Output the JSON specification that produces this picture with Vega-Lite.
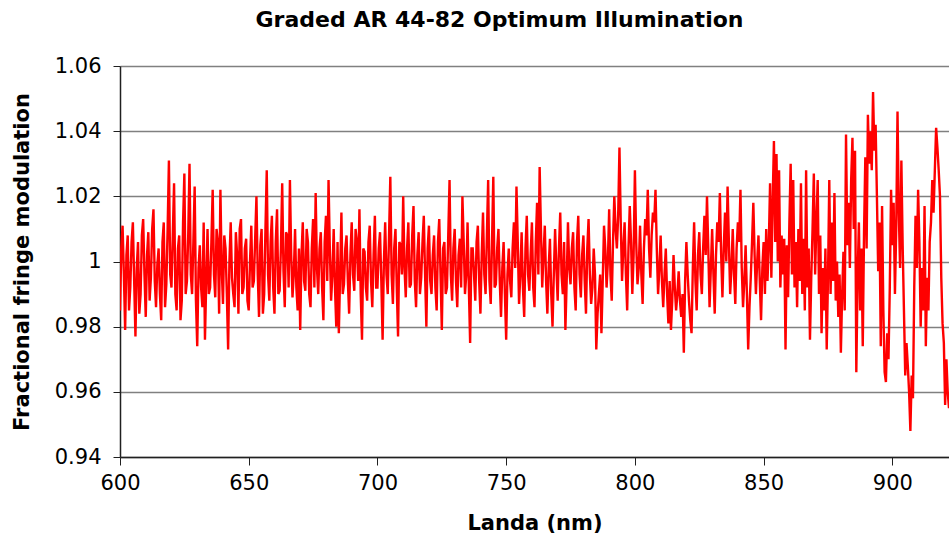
{
  "$schema": "https://vega.github.io/schema/vega-lite/v6.json",
  "width": 829,
  "height": 391,
  "autosize": {"type": "none"},
  "padding": {"left": 120, "top": 66, "right": 0, "bottom": 88},
  "background": "white",
  "config": {
    "view": {"stroke": null},
    "font": "DejaVu Sans",
    "axis": {"labelFont": "DejaVu Sans", "titleFont": "DejaVu Sans", "labelColor": "black", "titleColor": "black"}
  },
  "title": {
    "text": "Graded AR 44-82 Optimum Illumination",
    "font": "DejaVu Sans",
    "fontSize": 22,
    "fontWeight": "bold",
    "color": "black",
    "anchor": "middle",
    "frame": "group",
    "dx": -35,
    "offset": 30,
    "dy": 24,
    "baseline": "alphabetic"
  },
  "data": {"values": [
    {"x":600,"y":0.985},{"x":601,"y":1.011},{"x":602,"y":0.979},{"x":603,"y":1.008},{"x":604,"y":0.992},{"x":605,"y":1.012},{"x":606,"y":0.977},{"x":607,"y":1.006},{"x":608,"y":0.990},{"x":609,"y":1.013},
    {"x":610,"y":0.983},{"x":611,"y":1.009},{"x":612,"y":0.995},{"x":613,"y":1.016},{"x":614,"y":0.986},{"x":615,"y":1.004},{"x":616,"y":0.982},{"x":617,"y":1.012},{"x":618,"y":0.993},{"x":619,"y":1.031},
    {"x":620,"y":0.992},{"x":621,"y":1.024},{"x":622,"y":0.985},{"x":623,"y":1.008},{"x":624,"y":0.988},{"x":625,"y":1.027},{"x":626,"y":0.994},{"x":627,"y":1.030},{"x":628,"y":0.990},{"x":629,"y":1.023},
    {"x":630,"y":0.974},{"x":631,"y":1.005},{"x":632,"y":0.986},{"x":633,"y":0.976},{"x":634,"y":1.010},{"x":635,"y":0.992},{"x":636,"y":1.022},{"x":637,"y":0.989},{"x":638,"y":1.006},{"x":639,"y":1.022},
    {"x":640,"y":0.987},{"x":641,"y":1.004},{"x":642,"y":0.973},{"x":643,"y":1.012},{"x":644,"y":0.990},{"x":645,"y":1.009},{"x":646,"y":0.984},{"x":647,"y":1.013},{"x":648,"y":0.992},{"x":649,"y":1.007},
    {"x":650,"y":0.985},{"x":651,"y":1.011},{"x":652,"y":0.994},{"x":653,"y":1.020},{"x":654,"y":0.983},{"x":655,"y":1.010},{"x":656,"y":0.990},{"x":657,"y":1.028},{"x":658,"y":0.988},{"x":659,"y":1.014},
    {"x":660,"y":0.984},{"x":661,"y":1.016},{"x":662,"y":0.991},{"x":663,"y":1.024},{"x":664,"y":0.986},{"x":665,"y":1.008},{"x":666,"y":1.025},{"x":667,"y":0.989},{"x":668,"y":1.010},{"x":669,"y":0.985},
    {"x":670,"y":0.979},{"x":671,"y":1.012},{"x":672,"y":0.991},{"x":673,"y":1.006},{"x":674,"y":0.986},{"x":675,"y":1.013},{"x":676,"y":1.021},{"x":677,"y":0.990},{"x":678,"y":1.009},{"x":679,"y":0.982},
    {"x":680,"y":1.014},{"x":681,"y":1.025},{"x":682,"y":0.988},{"x":683,"y":1.010},{"x":684,"y":0.980},{"x":685,"y":0.978},{"x":686,"y":1.015},{"x":687,"y":0.993},{"x":688,"y":1.008},{"x":689,"y":0.984},
    {"x":690,"y":1.012},{"x":691,"y":0.991},{"x":692,"y":1.006},{"x":693,"y":1.016},{"x":694,"y":0.976},{"x":695,"y":1.003},{"x":696,"y":0.988},{"x":697,"y":1.011},{"x":698,"y":0.986},{"x":699,"y":1.014},
    {"x":700,"y":0.992},{"x":701,"y":1.009},{"x":702,"y":0.976},{"x":703,"y":1.012},{"x":704,"y":0.990},{"x":705,"y":1.026},{"x":706,"y":0.987},{"x":707,"y":1.010},{"x":708,"y":0.977},{"x":709,"y":1.005},
    {"x":710,"y":1.020},{"x":711,"y":0.989},{"x":712,"y":1.012},{"x":713,"y":0.993},{"x":714,"y":1.017},{"x":715,"y":0.986},{"x":716,"y":1.009},{"x":717,"y":0.995},{"x":718,"y":1.014},{"x":719,"y":0.980},
    {"x":720,"y":1.011},{"x":721,"y":0.990},{"x":722,"y":1.008},{"x":723,"y":0.985},{"x":724,"y":1.013},{"x":725,"y":0.979},{"x":726,"y":1.006},{"x":727,"y":0.992},{"x":728,"y":1.025},{"x":729,"y":0.988},
    {"x":730,"y":1.010},{"x":731,"y":0.986},{"x":732,"y":1.007},{"x":733,"y":1.020},{"x":734,"y":0.990},{"x":735,"y":1.012},{"x":736,"y":0.975},{"x":737,"y":1.004},{"x":738,"y":0.988},{"x":739,"y":1.011},
    {"x":740,"y":0.984},{"x":741,"y":1.015},{"x":742,"y":0.990},{"x":743,"y":1.025},{"x":744,"y":0.987},{"x":745,"y":1.026},{"x":746,"y":0.993},{"x":747,"y":1.010},{"x":748,"y":0.983},{"x":749,"y":1.006},
    {"x":750,"y":0.976},{"x":751,"y":1.004},{"x":752,"y":0.989},{"x":753,"y":1.012},{"x":754,"y":1.023},{"x":755,"y":0.987},{"x":756,"y":1.009},{"x":757,"y":0.983},{"x":758,"y":1.014},{"x":759,"y":0.991},
    {"x":760,"y":1.012},{"x":761,"y":0.986},{"x":762,"y":1.018},{"x":763,"y":1.029},{"x":764,"y":0.992},{"x":765,"y":1.011},{"x":766,"y":0.984},{"x":767,"y":1.007},{"x":768,"y":0.980},{"x":769,"y":1.010},
    {"x":770,"y":0.988},{"x":771,"y":1.015},{"x":772,"y":0.990},{"x":773,"y":0.979},{"x":774,"y":1.012},{"x":775,"y":0.993},{"x":776,"y":1.009},{"x":777,"y":0.985},{"x":778,"y":1.014},{"x":779,"y":0.989},
    {"x":780,"y":1.008},{"x":781,"y":0.984},{"x":782,"y":1.013},{"x":783,"y":0.987},{"x":784,"y":1.004},{"x":785,"y":0.973},{"x":786,"y":0.990},{"x":787,"y":0.978},{"x":788,"y":1.011},{"x":789,"y":0.992},
    {"x":790,"y":1.016},{"x":791,"y":0.988},{"x":792,"y":1.020},{"x":793,"y":1.004},{"x":794,"y":1.035},{"x":795,"y":0.994},{"x":796,"y":1.012},{"x":797,"y":0.985},{"x":798,"y":1.017},{"x":799,"y":0.990},
    {"x":800,"y":1.028},{"x":801,"y":0.993},{"x":802,"y":1.011},{"x":803,"y":0.987},{"x":804,"y":1.013},{"x":805,"y":1.022},{"x":806,"y":0.995},{"x":807,"y":1.015},{"x":808,"y":1.022},{"x":809,"y":0.990},
    {"x":810,"y":1.008},{"x":811,"y":0.986},{"x":812,"y":1.004},{"x":813,"y":0.981},{"x":814,"y":0.979},{"x":815,"y":1.002},{"x":816,"y":0.985},{"x":817,"y":0.997},{"x":818,"y":0.983},{"x":819,"y":0.972},
    {"x":820,"y":1.006},{"x":821,"y":0.988},{"x":822,"y":0.978},{"x":823,"y":1.012},{"x":824,"y":0.985},{"x":825,"y":1.009},{"x":826,"y":0.990},{"x":827,"y":1.014},{"x":828,"y":1.020},{"x":829,"y":0.986},
    {"x":830,"y":1.010},{"x":831,"y":0.984},{"x":832,"y":1.012},{"x":833,"y":1.021},{"x":834,"y":0.989},{"x":835,"y":1.015},{"x":836,"y":1.023},{"x":837,"y":0.990},{"x":838,"y":1.010},{"x":839,"y":0.987},
    {"x":840,"y":1.012},{"x":841,"y":1.022},{"x":842,"y":0.986},{"x":843,"y":1.005},{"x":844,"y":0.973},{"x":845,"y":0.995},{"x":846,"y":1.018},{"x":847,"y":0.990},{"x":848,"y":1.008},{"x":849,"y":0.982},
    {"x":850,"y":1.006},{"x":850.5,"y":0.990},{"x":851,"y":1.010},{"x":851.5,"y":0.994},{"x":852,"y":1.005},{"x":852.5,"y":1.024},{"x":853,"y":0.995},{"x":853.5,"y":1.018},{"x":854,"y":1.037},{"x":854.5,"y":1.006},
    {"x":855,"y":1.033},{"x":855.5,"y":1.000},{"x":856,"y":1.028},{"x":856.5,"y":0.992},{"x":857,"y":1.008},{"x":857.5,"y":0.996},{"x":858,"y":1.007},{"x":858.5,"y":0.973},{"x":859,"y":1.005},{"x":859.5,"y":0.989},
    {"x":860,"y":1.012},{"x":860.5,"y":1.030},{"x":861,"y":0.996},{"x":861.5,"y":1.025},{"x":862,"y":0.992},{"x":862.5,"y":1.006},{"x":863,"y":0.986},{"x":863.5,"y":1.010},{"x":864,"y":0.994},{"x":864.5,"y":1.024},
    {"x":865,"y":0.990},{"x":865.5,"y":1.007},{"x":866,"y":0.985},{"x":866.5,"y":1.028},{"x":867,"y":0.992},{"x":867.5,"y":1.004},{"x":868,"y":0.976},{"x":868.5,"y":0.995},{"x":869,"y":1.010},{"x":869.5,"y":1.027},
    {"x":870,"y":0.996},{"x":870.5,"y":1.012},{"x":871,"y":1.025},{"x":871.5,"y":0.990},{"x":872,"y":1.008},{"x":872.5,"y":0.978},{"x":873,"y":0.998},{"x":873.5,"y":0.985},{"x":874,"y":1.004},{"x":874.5,"y":0.973},
    {"x":875,"y":0.995},{"x":875.5,"y":1.025},{"x":876,"y":0.990},{"x":876.5,"y":1.012},{"x":877,"y":0.994},{"x":877.5,"y":1.021},{"x":878,"y":0.988},{"x":878.5,"y":1.000},{"x":879,"y":0.983},{"x":879.5,"y":0.996},
    {"x":880,"y":0.972},{"x":880.5,"y":0.990},{"x":881,"y":1.003},{"x":881.5,"y":0.985},{"x":882,"y":1.039},{"x":882.5,"y":1.005},{"x":883,"y":1.018},{"x":883.5,"y":0.998},{"x":884,"y":1.025},{"x":884.5,"y":1.038},
    {"x":885,"y":1.010},{"x":885.5,"y":1.034},{"x":886,"y":0.966},{"x":886.5,"y":0.995},{"x":887,"y":1.012},{"x":887.5,"y":0.985},{"x":888,"y":1.004},{"x":888.5,"y":0.974},{"x":889,"y":1.009},{"x":889.5,"y":1.032},
    {"x":890,"y":1.004},{"x":890.5,"y":1.045},{"x":891,"y":1.030},{"x":891.5,"y":1.040},{"x":892,"y":1.028},{"x":892.5,"y":1.052},{"x":893,"y":1.034},{"x":893.5,"y":1.042},{"x":894,"y":1.020},{"x":894.5,"y":0.997},
    {"x":895,"y":1.012},{"x":895.5,"y":0.974},{"x":896,"y":1.017},{"x":896.5,"y":0.985},{"x":897,"y":0.966},{"x":897.5,"y":0.963},{"x":898,"y":0.978},{"x":898.5,"y":0.970},{"x":899,"y":0.992},{"x":899.5,"y":1.022},
    {"x":900,"y":1.005},{"x":900.5,"y":1.018},{"x":901,"y":0.990},{"x":901.5,"y":1.010},{"x":902,"y":1.046},{"x":902.5,"y":1.015},{"x":903,"y":0.998},{"x":903.5,"y":1.031},{"x":904,"y":1.005},{"x":904.5,"y":0.985},
    {"x":905,"y":0.965},{"x":905.5,"y":0.975},{"x":906,"y":0.968},{"x":906.5,"y":0.960},{"x":907,"y":0.948},{"x":907.5,"y":0.965},{"x":908,"y":0.958},{"x":908.5,"y":0.992},{"x":909,"y":1.014},{"x":909.5,"y":0.998},
    {"x":910,"y":1.022},{"x":910.5,"y":1.006},{"x":911,"y":0.980},{"x":911.5,"y":0.998},{"x":912,"y":0.985},{"x":912.5,"y":1.017},{"x":913,"y":0.974},{"x":913.5,"y":0.995},{"x":914,"y":0.985},{"x":914.5,"y":1.006},
    {"x":915,"y":1.012},{"x":915.5,"y":1.025},{"x":916,"y":1.015},{"x":916.5,"y":1.028},{"x":917,"y":1.041},{"x":917.5,"y":1.035},{"x":918,"y":1.028},{"x":918.5,"y":1.020},{"x":919,"y":0.995},{"x":919.5,"y":0.981},
    {"x":920,"y":0.975},{"x":920.5,"y":0.956},{"x":921,"y":0.970},{"x":921.5,"y":0.960},{"x":922,"y":0.955},
    {"x":600.5,"y":1.004},{"x":601.5,"y":0.996},{"x":602.5,"y":1.002},{"x":603.5,"y":0.985},{"x":604.5,"y":1.006},{"x":605.5,"y":0.994},{"x":606.5,"y":0.998},{"x":607.5,"y":0.984},{"x":608.5,"y":1.008},{"x":609.5,"y":0.996},
    {"x":610.5,"y":1.002},{"x":611.5,"y":0.988},{"x":612.5,"y":1.010},{"x":613.5,"y":0.994},{"x":614.5,"y":0.999},{"x":615.5,"y":0.990},{"x":616.5,"y":1.006},{"x":617.5,"y":0.986},{"x":618.5,"y":1.010},{"x":619.5,"y":0.996},
    {"x":620.5,"y":1.008},{"x":621.5,"y":0.990},{"x":622.5,"y":1.004},{"x":623.5,"y":0.982},{"x":624.5,"y":1.012},{"x":625.5,"y":0.990},{"x":626.5,"y":1.008},{"x":627.5,"y":0.996},{"x":628.5,"y":1.006},{"x":629.5,"y":0.988},
    {"x":630.5,"y":0.998},{"x":631.5,"y":0.992},{"x":632.5,"y":1.012},{"x":633.5,"y":0.994},{"x":634.5,"y":0.990},{"x":635.5,"y":1.006},{"x":636.5,"y":0.996},{"x":637.5,"y":1.010},{"x":638.5,"y":0.984},{"x":639.5,"y":0.998},
    {"x":640.5,"y":1.008},{"x":641.5,"y":0.990},{"x":642.5,"y":1.000},{"x":643.5,"y":0.995},{"x":644.5,"y":0.986},{"x":645.5,"y":1.002},{"x":646.5,"y":1.010},{"x":647.5,"y":0.990},{"x":648.5,"y":1.004},{"x":649.5,"y":0.988},
    {"x":650.5,"y":1.000},{"x":651.5,"y":0.992},{"x":652.5,"y":1.007},{"x":653.5,"y":0.996},{"x":654.5,"y":1.005},{"x":655.5,"y":0.984},{"x":656.5,"y":1.010},{"x":657.5,"y":0.996},{"x":658.5,"y":1.006},{"x":659.5,"y":0.992},
    {"x":660.5,"y":1.006},{"x":661.5,"y":0.990},{"x":662.5,"y":1.004},{"x":663.5,"y":0.997},{"x":664.5,"y":1.009},{"x":665.5,"y":0.992},{"x":666.5,"y":1.002},{"x":667.5,"y":0.996},{"x":668.5,"y":0.992},{"x":669.5,"y":1.004},
    {"x":670.5,"y":1.002},{"x":671.5,"y":0.994},{"x":672.5,"y":1.010},{"x":673.5,"y":0.990},{"x":674.5,"y":1.004},{"x":675.5,"y":0.992},{"x":676.5,"y":0.998},{"x":677.5,"y":1.004},{"x":678.5,"y":0.992},{"x":679.5,"y":1.006},
    {"x":680.5,"y":0.994},{"x":681.5,"y":1.004},{"x":682.5,"y":0.996},{"x":683.5,"y":0.992},{"x":684.5,"y":1.006},{"x":685.5,"y":0.996},{"x":686.5,"y":0.990},{"x":687.5,"y":1.004},{"x":688.5,"y":0.994},{"x":689.5,"y":1.002},
    {"x":690.5,"y":0.996},{"x":691.5,"y":1.010},{"x":692.5,"y":0.994},{"x":693.5,"y":0.990},{"x":694.5,"y":1.004},{"x":695.5,"y":0.992},{"x":696.5,"y":1.006},{"x":697.5,"y":0.994},{"x":698.5,"y":1.002},{"x":699.5,"y":0.992},
    {"x":700.5,"y":1.004},{"x":701.5,"y":0.994},{"x":702.5,"y":1.000},{"x":703.5,"y":0.996},{"x":704.5,"y":1.008},{"x":705.5,"y":0.996},{"x":706.5,"y":1.004},{"x":707.5,"y":0.992},{"x":708.5,"y":1.006},{"x":709.5,"y":0.996},
    {"x":710.5,"y":0.998},{"x":711.5,"y":1.004},{"x":712.5,"y":0.992},{"x":713.5,"y":1.008},{"x":714.5,"y":0.994},{"x":715.5,"y":1.002},{"x":716.5,"y":0.990},{"x":717.5,"y":1.006},{"x":718.5,"y":0.996},{"x":719.5,"y":1.004},
    {"x":720.5,"y":0.994},{"x":721.5,"y":1.002},{"x":722.5,"y":0.992},{"x":723.5,"y":1.006},{"x":724.5,"y":0.996},{"x":725.5,"y":1.004},{"x":726.5,"y":0.990},{"x":727.5,"y":1.008},{"x":728.5,"y":0.996},{"x":729.5,"y":1.004},
    {"x":730.5,"y":0.994},{"x":731.5,"y":1.002},{"x":732.5,"y":0.992},{"x":733.5,"y":1.006},{"x":734.5,"y":0.996},{"x":735.5,"y":0.992},{"x":736.5,"y":1.004},{"x":737.5,"y":0.996},{"x":738.5,"y":1.006},{"x":739.5,"y":0.994},
    {"x":740.5,"y":1.002},{"x":741.5,"y":0.996},{"x":742.5,"y":1.008},{"x":743.5,"y":0.994},{"x":744.5,"y":1.006},{"x":745.5,"y":0.992},{"x":746.5,"y":1.004},{"x":747.5,"y":0.994},{"x":748.5,"y":0.998},{"x":749.5,"y":0.990},
    {"x":750.5,"y":0.996},{"x":751.5,"y":0.994},{"x":752.5,"y":1.004},{"x":753.5,"y":0.998},{"x":754.5,"y":1.006},{"x":755.5,"y":0.996},{"x":756.5,"y":0.992},{"x":757.5,"y":1.004},{"x":758.5,"y":0.996},{"x":759.5,"y":1.002},
    {"x":760.5,"y":0.992},{"x":761.5,"y":1.006},{"x":762.5,"y":0.996},{"x":763.5,"y":1.010},{"x":764.5,"y":1.002},{"x":765.5,"y":0.994},{"x":766.5,"y":0.998},{"x":767.5,"y":0.990},{"x":768.5,"y":0.996},{"x":769.5,"y":0.998},
    {"x":770.5,"y":1.004},{"x":771.5,"y":0.996},{"x":772.5,"y":1.006},{"x":773.5,"y":0.994},{"x":774.5,"y":0.998},{"x":775.5,"y":1.004},{"x":776.5,"y":0.992},{"x":777.5,"y":1.006},{"x":778.5,"y":0.996},{"x":779.5,"y":1.002},
    {"x":780.5,"y":0.994},{"x":781.5,"y":1.004},{"x":782.5,"y":0.996},{"x":783.5,"y":0.992},{"x":784.5,"y":0.996},{"x":785.5,"y":0.984},{"x":786.5,"y":0.996},{"x":787.5,"y":0.994},{"x":788.5,"y":1.004},{"x":789.5,"y":1.000},
    {"x":790.5,"y":0.996},{"x":791.5,"y":1.006},{"x":792.5,"y":1.010},{"x":793.5,"y":1.014},{"x":794.5,"y":1.012},{"x":795.5,"y":1.004},{"x":796.5,"y":0.996},{"x":797.5,"y":1.004},{"x":798.5,"y":1.006},{"x":799.5,"y":1.002},
    {"x":800.5,"y":1.006},{"x":801.5,"y":0.998},{"x":802.5,"y":0.996},{"x":803.5,"y":1.004},{"x":804.5,"y":1.008},{"x":805.5,"y":1.004},{"x":806.5,"y":1.008},{"x":807.5,"y":1.012},{"x":808.5,"y":1.004},{"x":809.5,"y":0.998},
    {"x":810.5,"y":0.994},{"x":811.5,"y":0.996},{"x":812.5,"y":0.990},{"x":813.5,"y":0.994},{"x":814.5,"y":0.988},{"x":815.5,"y":0.992},{"x":816.5,"y":0.990},{"x":817.5,"y":0.988},{"x":818.5,"y":0.990},{"x":819.5,"y":0.994},
    {"x":820.5,"y":0.996},{"x":821.5,"y":0.982},{"x":822.5,"y":0.998},{"x":823.5,"y":0.994},{"x":824.5,"y":1.002},{"x":825.5,"y":0.996},{"x":826.5,"y":1.004},{"x":827.5,"y":1.002},{"x":828.5,"y":1.004},{"x":829.5,"y":0.998},
    {"x":830.5,"y":0.996},{"x":831.5,"y":1.002},{"x":832.5,"y":1.006},{"x":833.5,"y":1.002},{"x":834.5,"y":1.004},{"x":835.5,"y":1.000},{"x":836.5,"y":1.006},{"x":837.5,"y":0.998},{"x":838.5,"y":0.996},{"x":839.5,"y":1.004},
    {"x":840.5,"y":1.006},{"x":841.5,"y":0.998},{"x":842.5,"y":0.994},{"x":843.5,"y":0.990},{"x":844.5,"y":0.986},{"x":845.5,"y":1.006},{"x":846.5,"y":1.002},{"x":847.5,"y":1.000},{"x":848.5,"y":0.994},{"x":849.5,"y":0.998}
  ]},
  "mark": {"type": "line", "color": "#FF0000", "strokeWidth": 2.4, "clip": true, "interpolate": "linear"},
  "encoding": {
    "x": {
      "field": "x", "type": "quantitative",
      "scale": {"domain": [600, 922], "nice": false, "zero": false},
      "axis": {
        "title": "Landa (nm)", "values": [600, 650, 700, 750, 800, 850, 900],
        "grid": false, "domainColor": "#202020", "domainWidth": 1.5,
        "tickColor": "#202020", "tickSize": 8, "tickWidth": 1,
        "labelFontSize": 21, "labelPadding": 7, "labelFlush": false,
        "titleFontSize": 21, "titleFontWeight": "bold", "titlePadding": 19
      }
    },
    "y": {
      "field": "y", "type": "quantitative",
      "scale": {"domain": [0.94, 1.06], "nice": false, "zero": false},
      "axis": {
        "title": "Fractional fringe modulation",
        "values": [0.94, 0.96, 0.98, 1.0, 1.02, 1.04, 1.06],
        "format": ".2~f",
        "grid": true, "gridColor": "#808080", "gridWidth": 1.5,
        "domainColor": "#202020", "domainWidth": 1.5,
        "tickColor": "#202020", "tickSize": 7, "tickWidth": 1,
        "labelFontSize": 21, "labelPadding": 12, "labelFlush": false,
        "titleFontSize": 21, "titleFontWeight": "bold", "titlePadding": 22
      }
    }
  }
}
